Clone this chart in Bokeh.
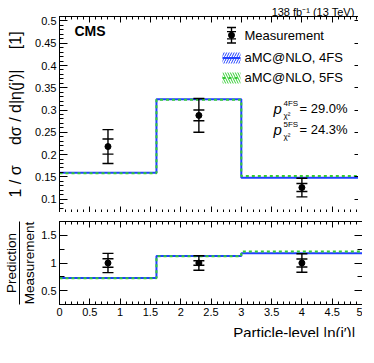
from bokeh.plotting import figure
from bokeh.layouts import column
from bokeh.models import (Range1d, LinearAxis, SingleIntervalTicker, FixedTicker, Spacer,
                          CustomJSTickFormatter, NumeralTickFormatter)
from bokeh.core.properties import value
from bokeh.embed import file_html
from bokeh.resources import INLINE

# ---------------- data ----------------
bin_edges = [0.0, 1.6, 3.0, 5.0]
bin_centers = [0.8, 2.3, 4.0]
meas = [0.218, 0.288, 0.126]
meas_err_inner = [0.017, 0.012, 0.009]
meas_err_outer = [0.038, 0.038, 0.021]
pred_4fs = [0.159, 0.324, 0.148]
pred_5fs = [0.158, 0.323, 0.152]
legend_labels = ["Measurement", "aMC@NLO, 4FS", "aMC@NLO, 5FS"]
pchi2_schemes = ["4FS", "5FS"]
pchi2_values = ["29.0%", "24.3%"]
lumi_text = "138 fb\u207b\u00b9 (13 TeV)"
x_label = "Particle-level |\u03b7(j\u2032)|"
y_label_top = "1 / \u03c3\u2003 d\u03c3 / d|\u03b7(j\u2032)|\u2003 [1]"
ratio_num, ratio_den = "Prediction", "Measurement"

# ---------------- style / layout ----------------
FONT = "Liberation Sans"
BLUE = "#2040ff"
GREEN = "#33cc33"
W = 358
HEAD_H, FOOT_H = 16, 19
FRAME_W = 303
FRAME_H_TOP, FRAME_H_BOT = 196, 83
X0, X1 = 0.0, 5.0
YT0, YT1 = 0.07, 0.51
YB0, YB1 = 0.25, 1.75


# positions measured on the reference picture (pixels) -> data units of the top panel
def ref_x(px):
    return (px - 60.0) / 60.6


def ref_y(py):
    return 0.5 - (py - 19.3) / 490.0


def ref_dy(dpx):
    return dpx / 490.0


def style_axis(ax):
    ax.axis_line_color = "black"
    ax.axis_line_width = 1
    ax.major_tick_line_color = "black"
    ax.minor_tick_line_color = "black"
    ax.axis_label_text_font = FONT
    ax.axis_label_text_font_style = "normal"
    ax.axis_label_text_color = "black"


def make_axis(interval, nminor, labeled, maj_in, min_in, fmt=None):
    ax = LinearAxis(ticker=SingleIntervalTicker(interval=interval, num_minor_ticks=nminor))
    style_axis(ax)
    ax.major_tick_in = maj_in
    ax.major_tick_out = 0
    ax.minor_tick_in = min_in
    ax.minor_tick_out = 0
    if labeled:
        ax.formatter = fmt
        ax.major_label_text_font = FONT
        ax.major_label_text_font_size = "11px"
        ax.major_label_text_color = "black"
        ax.major_label_standoff = 3
    else:
        ax.formatter = CustomJSTickFormatter(code="return ''")
        ax.major_label_text_font_size = "0px"
        ax.major_label_standoff = 0
    return ax


def base_fig(fh, yr):
    f = figure(frame_width=FRAME_W, frame_height=fh, x_range=Range1d(X0, X1), y_range=Range1d(*yr),
               output_backend="svg", toolbar_location=None,
               x_axis_location=None, y_axis_location=None, min_border=0)
    f.grid.visible = False
    f.outline_line_color = None
    f.background_fill_color = "white"
    f.border_fill_color = "white"
    return f


def strip_fig(h):
    # a plain strip (pixel units) for the texts above and below the panels
    f = figure(width=W, height=h, x_range=Range1d(0, W), y_range=Range1d(0, h),
               output_backend="svg", toolbar_location=None,
               x_axis_location=None, y_axis_location=None, min_border=0)
    f.frame_align = False
    f.grid.visible = False
    f.outline_line_color = None
    f.background_fill_color = "white"
    f.border_fill_color = "white"
    return f


# ---------------- header (lumi) ----------------
head = strip_fig(HEAD_H)
head.text(x=[W - 4], y=[4.5], text=[lumi_text], text_align="right", text_baseline="alphabetic",
          text_font=value(FONT), text_font_size="11px", text_color="black")

# ---------------- top panel ----------------
top = base_fig(FRAME_H_TOP, (YT0, YT1))
ly_ax = make_axis(0.05, 5, True, 8, 4, NumeralTickFormatter(format="0.[00]"))
ly_ax.axis_label = y_label_top
ly_ax.axis_label_text_font_size = "16px"
ly_ax.axis_label_standoff = 8
top.add_layout(ly_ax, "left")
top.add_layout(make_axis(0.05, 5, False, 8, 4), "right")
top.add_layout(make_axis(0.5, 5, False, 6, 3), "below")
top.add_layout(make_axis(0.5, 5, False, 6, 3), "above")

top.step(x=bin_edges, y=pred_4fs + [pred_4fs[-1]], mode="after", line_color=BLUE, line_width=2)
top.step(x=bin_edges, y=pred_5fs + [pred_5fs[-1]], mode="after", line_color=GREEN,
         line_width=2, line_dash="3 3")

lo_o = [m - e for m, e in zip(meas, meas_err_outer)]
hi_o = [m + e for m, e in zip(meas, meas_err_outer)]
lo_i = [m - e for m, e in zip(meas, meas_err_inner)]
hi_i = [m + e for m, e in zip(meas, meas_err_inner)]
top.segment(x0=bin_centers, y0=lo_o, x1=bin_centers, y1=hi_o, line_color="black", line_width=1.4)
for ys in (lo_o, hi_o, lo_i, hi_i):
    top.scatter(bin_centers, ys, marker="dash", size=11, line_color="black", line_width=1.4)
top.scatter(bin_centers, meas, marker="circle", size=6, color="black")

# CMS label
top.text(x=[ref_x(75)], y=[ref_y(30)], text=["CMS"], text_font=value(FONT),
         text_font_style="bold", text_font_size="14px", text_baseline="middle", text_color="black")

# legend
lx_mark = ref_x(232)
lx_text = ref_x(245)
ly = [ref_y(35), ref_y(60), ref_y(82)]
d8, d4 = ref_dy(8.5), ref_dy(4)
top.segment(x0=[lx_mark], y0=[ly[0] - d8], x1=[lx_mark], y1=[ly[0] + d8], line_color="black", line_width=1.4)
top.scatter([lx_mark] * 4, [ly[0] - d8, ly[0] + d8, ly[0] - d4, ly[0] + d4], marker="dash",
            size=9, line_color="black", line_width=1.4)
top.scatter([lx_mark], [ly[0]], size=6, color="black")
bh = ref_dy(6)
bx0, bx1 = ref_x(223), ref_x(241)
top.quad(left=[bx0], right=[bx1], bottom=[ly[1] - bh], top=[ly[1] + bh], fill_color=None,
         line_color=None, hatch_pattern="/", hatch_color=BLUE, hatch_scale=5, hatch_weight=1)
top.segment(x0=[bx0], y0=[ly[1]], x1=[bx1], y1=[ly[1]], line_color=BLUE, line_width=2)
top.quad(left=[bx0], right=[bx1], bottom=[ly[2] - bh], top=[ly[2] + bh], fill_color=None,
         line_color=None, hatch_pattern="\\", hatch_color=GREEN, hatch_scale=5, hatch_weight=1)
top.segment(x0=[bx0], y0=[ly[2]], x1=[bx1], y1=[ly[2]], line_color=GREEN, line_width=2, line_dash="3 3")
top.text(x=[lx_text] * 3, y=ly, text=legend_labels, text_font=value(FONT), text_font_size="13px",
         text_baseline="middle", text_color="black")

# p-values
py = [ref_y(116), ref_y(139)]
top.text(x=[ref_x(274)] * 2, y=py, text=["p", "p"], text_font=value(FONT), text_font_style="italic",
         text_font_size="15px", text_baseline="middle", text_color="black")
top.text(x=[ref_x(284)] * 2, y=[v + ref_dy(6) for v in py], text=pchi2_schemes,
         text_font=value(FONT), text_font_size="8px", text_baseline="middle", text_color="black")
top.text(x=[ref_x(284)] * 2, y=[v - ref_dy(7) for v in py], text=["\u03c7\u00b2"] * 2,
         text_font=value(FONT), text_font_size="8px", text_baseline="middle", text_color="black")
top.text(x=[ref_x(300)] * 2, y=py, text=["= " + v for v in pchi2_values], text_font=value(FONT),
         text_font_size="13px", text_baseline="middle", text_color="black")

# ---------------- ratio panel ----------------
bot = base_fig(FRAME_H_BOT, (YB0, YB1))
lb_ax = make_axis(0.5, 2, True, 8, 5, NumeralTickFormatter(format="0.[0]"))
lb_ax.axis_label = ratio_den
lb_ax.axis_label_text_font_size = "13.5px"
lb_ax.axis_label_standoff = 1
bot.add_layout(lb_ax, "left")
# outer left axis: its line is the fraction bar, its label the numerator
frac_ax = LinearAxis(ticker=FixedTicker(ticks=[]))
style_axis(frac_ax)
frac_ax.major_tick_in = 0
frac_ax.major_tick_out = 0
frac_ax.minor_tick_in = 0
frac_ax.minor_tick_out = 0
frac_ax.major_label_text_font_size = "0px"
frac_ax.major_label_standoff = 0
frac_ax.axis_label = ratio_num
frac_ax.axis_label_text_font_size = "13.5px"
frac_ax.axis_label_standoff = 1
bot.add_layout(frac_ax, "left")
bot.add_layout(make_axis(0.5, 2, False, 8, 5), "right")
bot.add_layout(make_axis(0.5, 5, True, 6, 3, NumeralTickFormatter(format="0.[0]")), "below")
bot.add_layout(make_axis(0.5, 5, False, 6, 3), "above")

r4 = [p / m for p, m in zip(pred_4fs, meas)]
r5 = [p / m for p, m in zip(pred_5fs, meas)]
bot.step(x=bin_edges, y=r4 + [r4[-1]], mode="after", line_color=BLUE, line_width=2)
bot.step(x=bin_edges, y=r5 + [r5[-1]], mode="after", line_color=GREEN, line_width=2, line_dash="3 3")
ones = [m / m for m in meas]
rlo_o = [1 - e / m for m, e in zip(meas, meas_err_outer)]
rhi_o = [1 + e / m for m, e in zip(meas, meas_err_outer)]
rlo_i = [1 - e / m for m, e in zip(meas, meas_err_inner)]
rhi_i = [1 + e / m for m, e in zip(meas, meas_err_inner)]
bot.segment(x0=bin_centers, y0=rlo_o, x1=bin_centers, y1=rhi_o, line_color="black", line_width=1.4)
for ys in (rlo_o, rhi_o, rlo_i, rhi_i):
    bot.scatter(bin_centers, ys, marker="dash", size=11, line_color="black", line_width=1.4)
bot.scatter(bin_centers, ones, marker="circle", size=6, color="black")

# ---------------- footer (x-axis title) ----------------
foot = strip_fig(FOOT_H)
foot.text(x=[W - 3], y=[5], text=[x_label], text_align="right", text_baseline="alphabetic",
          text_font=value(FONT), text_font_size="15px", text_color="black")

layout = column(head, top, Spacer(height=9), bot, foot)
open("out.html", "w").write(file_html(layout, INLINE))
